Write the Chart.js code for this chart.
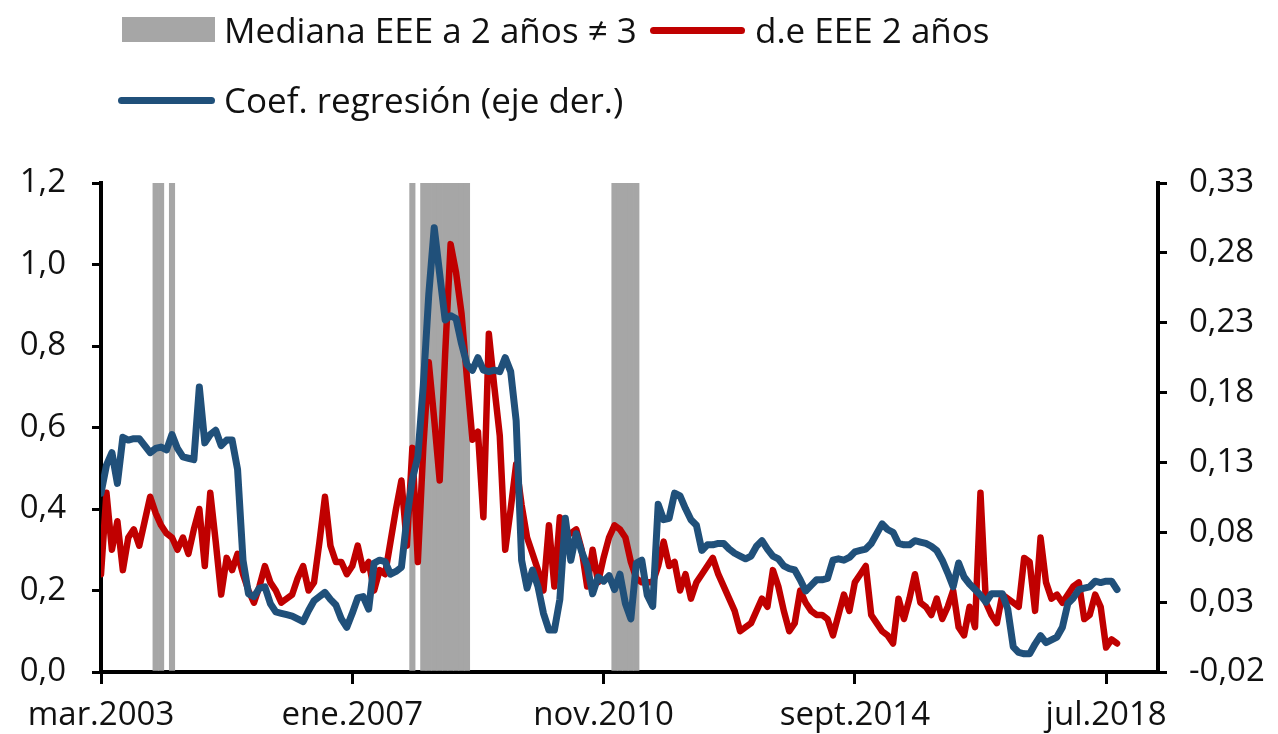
<!DOCTYPE html>
<html>
<head>
<meta charset="utf-8">
<script src="https://cdn.jsdelivr.net/npm/chart.js@4.4.1/dist/chart.umd.min.js"></script>
<style>
  body { margin: 0; background: #fff; }
  #wrap { position: relative; width: 1278px; height: 734px; font-family: 'Open Sans', sans-serif; color: #111; }
  canvas { position: absolute; left: 0; top: 0; }
  .lg-text { position: absolute; font-size: 35px; line-height: 40px; white-space: nowrap; }
  .lg-box { position: absolute; background: #a6a6a6; }
  .lg-line { position: absolute; border-radius: 4px; }
</style>
</head>
<body>
<div id="wrap">
  <canvas id="chart" width="1278" height="734"></canvas>
  <div class="lg-box" style="left:122px;top:17px;width:93px;height:25px"></div>
  <div class="lg-text" style="left:224px;top:10px">Mediana EEE a 2 años ≠ 3</div>
  <div class="lg-line" style="left:650px;top:27px;width:95px;height:7px;background:#c00000"></div>
  <div class="lg-text" style="left:755px;top:10px">d.e EEE 2 años</div>
  <div class="lg-line" style="left:118px;top:97px;width:97px;height:7px;background:#20507a"></div>
  <div class="lg-text" style="left:224px;top:80px">Coef. regresión (eje der.)</div>
</div>
<script>
// ── Data (monthly, mar.2003 = month 0) ─────────────────────────
const tickMonths = [0, 46, 92, 138, 184];
const tickLabels = ['mar.2003', 'ene.2007', 'nov.2010', 'sept.2014', 'jul.2018'];
const rightTicks = [-0.02, 0.03, 0.08, 0.13, 0.18, 0.23, 0.28, 0.33];

// months where the median 2y expectation differs from 3
const shadedMonths = [10, 11, 13, 57, 59, 60, 61, 62, 63, 64, 65, 66, 67, 94, 95, 96, 97, 98];

// d.e EEE 2 años (left axis)
const stdDev = [
  0.24,0.44,0.30,0.37,0.25,0.33,0.35,0.31,0.37,0.43,
  0.39,0.36,0.34,0.33,0.30,0.33,0.29,0.35,0.40,0.26,
  0.44,0.32,0.19,0.28,0.25,0.29,0.24,0.20,0.17,0.21,
  0.26,0.22,0.20,0.17,0.18,0.19,0.23,0.26,0.20,0.22,
  0.32,0.43,0.31,0.27,0.27,0.24,0.26,0.31,0.25,0.27,
  0.20,0.25,0.24,0.32,0.40,0.47,0.31,0.55,0.27,0.55,
  0.76,0.62,0.47,0.78,1.05,0.98,0.88,0.72,0.57,0.59,
  0.38,0.83,0.70,0.58,0.30,0.40,0.51,0.41,0.33,0.29,
  0.25,0.20,0.36,0.21,0.38,0.34,0.34,0.35,0.30,0.21,
  0.30,0.22,0.28,0.33,0.36,0.35,0.33,0.27,0.23,0.22,
  0.22,0.22,0.26,0.32,0.26,0.27,0.20,0.24,0.18,0.22,
  0.24,0.26,0.28,0.24,0.21,0.18,0.15,0.10,0.11,0.12,
  0.15,0.18,0.16,0.25,0.21,0.15,0.10,0.12,0.20,0.17,
  0.15,0.14,0.14,0.13,0.09,0.14,0.19,0.15,0.22,0.24,
  0.26,0.14,0.12,0.10,0.09,0.07,0.18,0.13,0.18,0.24,
  0.17,0.16,0.14,0.18,0.13,0.16,0.20,0.11,0.09,0.16,
  0.11,0.44,0.17,0.14,0.12,0.19,0.18,0.17,0.16,0.28,
  0.27,0.15,0.33,0.22,0.18,0.19,0.17,0.19,0.21,0.22,
  0.13,0.14,0.19,0.16,0.06,0.08,0.07
];

// Coef. regresión (right axis)
const regCoef = [
  0.108,0.128,0.137,0.115,0.148,0.146,0.147,0.147,0.142,0.137,
  0.140,0.141,0.139,0.150,0.140,0.134,0.133,0.132,0.184,0.144,
  0.150,0.153,0.142,0.146,0.146,0.125,0.060,0.036,0.034,0.040,
  0.041,0.029,0.023,0.022,0.021,0.020,0.018,0.016,0.024,0.031,
  0.034,0.037,0.032,0.028,0.018,0.012,0.022,0.033,0.034,0.025,
  0.058,0.060,0.059,0.050,0.052,0.055,0.090,0.118,0.134,0.185,
  0.250,0.298,0.265,0.232,0.235,0.233,0.215,0.200,0.196,0.205,
  0.196,0.195,0.196,0.195,0.205,0.195,0.160,0.060,0.040,0.053,
  0.041,0.022,0.010,0.010,0.032,0.090,0.060,0.079,0.066,0.056,
  0.036,0.048,0.045,0.049,0.039,0.050,0.029,0.018,0.058,0.060,
  0.035,0.027,0.100,0.089,0.090,0.108,0.106,0.097,0.089,0.085,
  0.067,0.071,0.071,0.072,0.072,0.068,0.065,0.063,0.061,0.063,
  0.070,0.074,0.068,0.063,0.061,0.056,0.054,0.053,0.046,0.038,
  0.042,0.046,0.046,0.047,0.060,0.061,0.060,0.062,0.066,0.067,
  0.068,0.072,0.079,0.086,0.082,0.080,0.072,0.071,0.071,0.074,
  0.073,0.072,0.070,0.067,0.060,0.051,0.041,0.058,0.048,0.043,
  0.039,0.035,0.030,0.036,0.036,0.036,0.025,-0.002,-0.006,-0.007,
  -0.007,0.000,0.006,0.001,0.003,0.005,0.012,0.029,0.033,0.039,
  0.040,0.041,0.045,0.044,0.045,0.045,0.039
];

// ── Chart ──────────────────────────────────────────────────────
const months = stdDev.map((_, i) => i);
const comma = (v, d) => v.toFixed(d).replace('.', ',');
const axisFont = { family: "'Open Sans', sans-serif", size: 33 };
const axisGrid = { drawOnChartArea: false, offset: false, color: '#000', lineWidth: 3, tickLength: 9 };
const axisBorder = { color: '#000', width: 4 };

new Chart(document.getElementById('chart'), {
  type: 'line',
  data: {
    datasets: [
      {
        type: 'bar',
        label: 'Mediana EEE a 2 años ≠ 3',
        data: months.map(m => ({ x: m, y: shadedMonths.includes(m) ? 1.2 : null })),
        backgroundColor: '#a6a6a6',
        borderWidth: 0,
        barPercentage: 1,
        categoryPercentage: 1,
        yAxisID: 'y',
        order: 3,
      },
      {
        label: 'd.e EEE 2 años',
        data: months.map(m => ({ x: m, y: stdDev[m] })),
        borderColor: '#c00000',
        borderWidth: 6.5,
        pointRadius: 0,
        tension: 0,
        yAxisID: 'y',
        order: 2,
      },
      {
        label: 'Coef. regresión (eje der.)',
        data: months.map(m => ({ x: m, y: regCoef[m] })),
        borderColor: '#20507a',
        borderWidth: 7,
        pointRadius: 0,
        tension: 0,
        yAxisID: 'y1',
        order: 1,
      },
    ]
  },
  options: {
    responsive: false,
    animation: false,
    layout: { padding: { top: 183, left: 0, right: 0, bottom: 0 } },
    elements: { line: { borderJoinStyle: 'round', borderCapStyle: 'round' } },
    plugins: { legend: { display: false }, tooltip: { enabled: false } },
    scales: {
      x: {
        type: 'linear', min: 0, max: 193.5, offset: false,
        afterBuildTicks: s => { s.ticks = tickMonths.map(v => ({ value: v })); },
        afterFit: s => { s.height = 62; },
        ticks: {
          autoSkip: false, maxRotation: 0, padding: 12, color: '#111', font: axisFont,
          callback: v => tickLabels[tickMonths.indexOf(v)] ?? ''
        },
        grid: { ...axisGrid, tickLength: 12 }, border: axisBorder,
      },
      y: {
        position: 'left', min: 0, max: 1.2,
        afterFit: s => { s.width = 101; },
        ticks: { stepSize: 0.2, padding: 26, color: '#111', font: axisFont, callback: v => comma(v, 1) },
        grid: axisGrid, border: axisBorder,
      },
      y1: {
        position: 'right', min: -0.02, max: 0.33,
        afterBuildTicks: s => { s.ticks = rightTicks.map(v => ({ value: v })); },
        afterFit: s => { s.width = 120; },
        ticks: { padding: 22, color: '#111', font: axisFont, callback: v => comma(v, 2) },
        grid: axisGrid, border: axisBorder,
      },
    }
  }
});
</script>
</body>
</html>
